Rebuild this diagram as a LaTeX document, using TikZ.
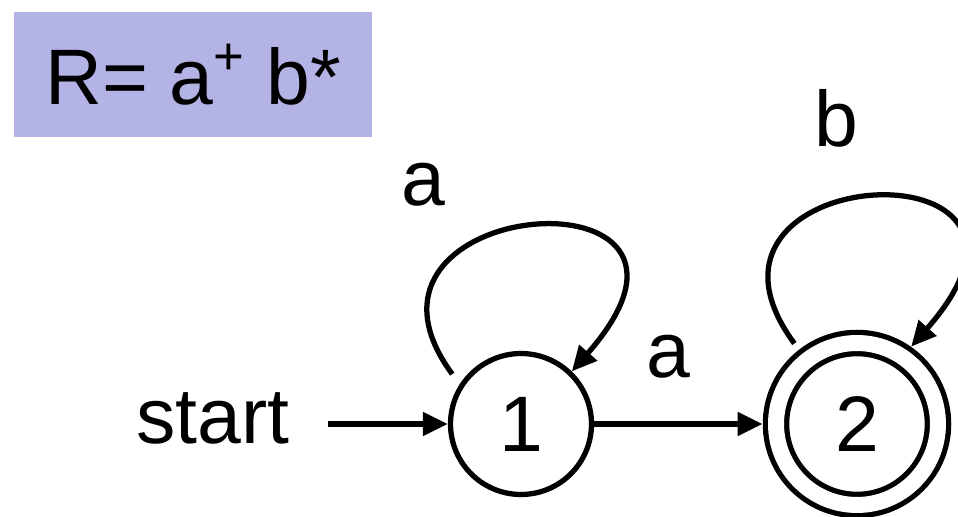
\documentclass[tikz,border=0pt]{standalone}
\usepackage{fontspec}
\setmainfont{Liberation Sans}
\usetikzlibrary{arrows.meta}
\definecolor{regexblue}{HTML}{B3B3E6}
\begin{document}
\begin{tikzpicture}[x=0.02cm, y=-0.02cm]
  \tikzset{
    bigtext/.style={font=\fontsize{44.8}{54}\selectfont},
    state/.style={circle, draw, line width=3pt, inner sep=0pt,
                  minimum size=2.82cm, bigtext},
    accept/.style={state, double, double distance=0.32cm,
                   minimum size=3.24cm, outer sep=0.27cm},
    trans/.style={-{Triangle[length=0.5cm, width=0.46cm]}, line width=3pt},
    lbl/.style={inner sep=0pt, bigtext},
  }
  \useasboundingbox (0,0) rectangle (958,517);
  % Regular expression box
  \node[fill=regexblue, minimum width=7.16cm, minimum height=2.5cm, bigtext]
    (regex) at (193,74.5) {R= a\raisebox{17pt}{\fontsize{30}{34}\selectfont+} b*};
  % States
  \node[state]  (n1) at (521,424) {1};
  \node[accept] (n2) at (857,424) {2};
  \coordinate (s) at (328,424);
  \node[lbl] (startlbl) at (213,418) {start};
  % Transitions
  \draw[trans] (s) -- (n1);
  \draw[trans] (n1) -- (n2);
  \node[lbl] (a12) at (668,357) {a};
  \draw[trans, shorten <=0.25cm] (n1.147) .. controls +(-140,-190) and +(185,-210) .. (n1.46);
  \node[lbl] (a11) at (423,185) {a};
  \draw[trans, shorten <=0.15cm] (n2.128) .. controls +(-140,-190) and +(185,-210) .. (n2.55);
  \node[lbl] (b22) at (836,118) {b};
\end{tikzpicture}
\end{document}
